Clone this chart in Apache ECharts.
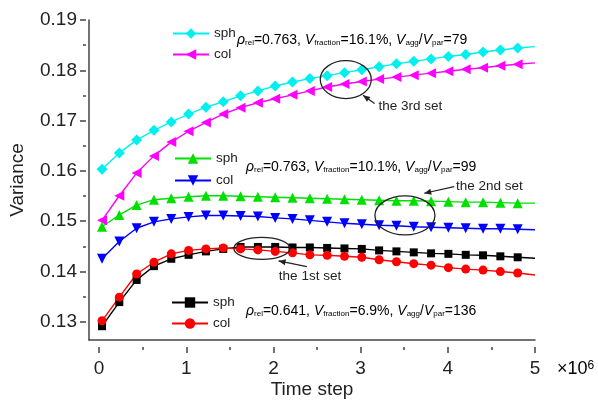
<!DOCTYPE html>
<html>
<head>
<meta charset="utf-8">
<script src="https://cdn.jsdelivr.net/npm/echarts@6/dist/echarts.min.js"></script>
<style>html,body{margin:0;padding:0;background:#fff;}#c{width:598px;height:404px;}</style>
</head>
<body>
<div id="c"></div>
<script>
// Time steps (x 10^6)
const timeSteps = [0,0.2,0.4,0.6,0.8,1.0,1.2,1.4,1.6,1.8,2.0,2.2,2.4,2.6,2.8,3.0,3.2,3.4,3.6,3.8,4.0,4.2,4.4,4.6,4.8,5.0];
// 3rd set
const sph3 = [0.1597,0.1630,0.1656,0.1676,0.1693,0.1709,0.1723,0.1734,0.1746,0.1756,0.1766,0.1774,0.1781,0.1787,0.1793,0.1799,0.1805,0.1811,0.1816,0.1821,0.1826,0.1830,0.1835,0.1839,0.1843,0.1846];
const col3 = [0.1493,0.1543,0.1589,0.1624,0.1652,0.1674,0.1692,0.1709,0.1722,0.1732,0.1740,0.1748,0.1756,0.1764,0.1770,0.1775,0.1780,0.1784,0.1788,0.1792,0.1796,0.1800,0.1803,0.1807,0.1810,0.1813];
// 2nd set
const sph2 = [0.1480,0.1504,0.1524,0.1535,0.1538,0.1541,0.1543,0.1543,0.1542,0.1541,0.1540,0.1539,0.1538,0.1537,0.1536,0.1535,0.1534,0.1533,0.1533,0.1532,0.1531,0.1530,0.1530,0.1529,0.1528,0.1528];
const col2 = [0.1415,0.1450,0.1477,0.1490,0.1496,0.1500,0.1503,0.1503,0.1502,0.1501,0.1498,0.1496,0.1493,0.1490,0.1487,0.1485,0.1483,0.1482,0.1480,0.1479,0.1478,0.1477,0.1476,0.1476,0.1475,0.1474];
// 1st set
const sph1 = [0.1278,0.1327,0.1372,0.1400,0.1415,0.1423,0.1430,0.1435,0.1439,0.1439,0.1439,0.1438,0.1438,0.1437,0.1436,0.1435,0.1432,0.1430,0.1428,0.1426,0.1425,0.1423,0.1422,0.1420,0.1418,0.1416];
const col1 = [0.1289,0.1337,0.1384,0.1408,0.1425,0.1432,0.1435,0.1437,0.1435,0.1433,0.1430,0.1427,0.1423,0.1422,0.1420,0.1418,0.1413,0.1409,0.1405,0.1402,0.1397,0.1394,0.1392,0.1389,0.1386,0.1382];

const xTickLabels = ['0','1','2','3','4','5'];
const yTickLabels = ['0.13','0.14','0.15','0.16','0.17','0.18','0.19'];

const FONT = 'Liberation Sans, Arial, sans-serif';
const chart = echarts.init(document.getElementById('c'), null, {renderer:'canvas'});

function mk(vals){
  return timeSteps.map((x,i)=> i===timeSteps.length-1 ? {value:[x,vals[i]], symbol:'none'} : {value:[x,vals[i]]});
}
function ser(name, vals, color, symbol, size, rot){
  return {
    name, type:'line', xAxisIndex:0, yAxisIndex:0, data: mk(vals),
    symbol, symbolSize:size, symbolRotate: rot||0, showSymbol:true,
    lineStyle:{color, width:1.4}, itemStyle:{color, borderWidth:0},
    emphasis:{disabled:true}, animation:false, clip:false, z:3
  };
}

const G0 = {left:86, top:20, width:449, height:327};
const pxPerX = 449/5.15;
const x0px = 86 + 0.15*pxPerX;
const pxPerY = 327/0.065;
const G1 = {left:x0px, top:20, width:5*pxPerX, height:0.06*pxPerY};

const legendBase = {
  orient:'vertical', itemWidth:36, itemHeight:13, itemGap:7, padding:0, selectedMode:false,
  textStyle:{fontSize:13.5, color:'#222', fontFamily:FONT},
  formatter: n => n.split('#')[0]
};
const rt = {
  i:{fontSize:14, fontStyle:'italic', fontFamily:FONT, color:'#333', lineHeight:16, verticalAlign:'bottom'},
  n:{fontSize:14, fontFamily:FONT, color:'#333', lineHeight:16, verticalAlign:'bottom'},
  s:{fontSize:8, fontFamily:FONT, color:'#333', lineHeight:8, verticalAlign:'bottom'}
};
function paramText(rho, vf, ratio){
  return '{i|ρ}{s|rel}{n|='+rho+', }{i|V}{s|fraction}{n|='+vf+', }{i|V}{s|agg}{n|/}{i|V}{s|par}{n|='+ratio+'}';
}

const option = {
  backgroundColor:'#fff',
  animation:false,
  grid:[
    Object.assign({containLabel:false}, G0),
    Object.assign({containLabel:false}, G1)
  ],
  xAxis:[
    {type:'value', gridIndex:0, min:-0.15, max:5, axisLine:{show:true, onZero:false, lineStyle:{color:'#444', width:1.5}},
     axisTick:{show:false}, axisLabel:{show:false}, splitLine:{show:false},
     name:'Time step', nameLocation:'middle', nameGap:40,
     nameTextStyle:{fontSize:19, color:'#222', fontFamily:FONT}},
    {type:'value', gridIndex:1, min:0, max:5, interval:1, offset:347-(20+G1.height),
     axisLine:{show:false, onZero:false}, axisTick:{show:true, length:6, lineStyle:{color:'#444', width:1.5}},
     minorTick:{show:true, splitNumber:2, length:3, lineStyle:{color:'#444', width:1.5}},
     axisLabel:{fontSize:19, color:'#222', fontFamily:FONT, margin:12, formatter:(v)=>xTickLabels[Math.round(v)]},
     splitLine:{show:false}, minorSplitLine:{show:false}}
  ],
  yAxis:[
    {type:'value', gridIndex:0, min:0.125, max:0.19, axisLine:{show:true, onZero:false, lineStyle:{color:'#444', width:1.5}},
     axisTick:{show:false}, axisLabel:{show:false}, splitLine:{show:false},
     name:'Variance', nameLocation:'middle', nameGap:62,
     nameTextStyle:{fontSize:19, color:'#222', fontFamily:FONT}},
    {type:'value', gridIndex:1, min:0.13, max:0.19, interval:0.01, offset:x0px-86,
     axisLine:{show:false, onZero:false}, axisTick:{show:true, length:6, lineStyle:{color:'#444', width:1.5}},
     minorTick:{show:true, splitNumber:2, length:3, lineStyle:{color:'#444', width:1.5}},
     axisLabel:{fontSize:19, color:'#222', fontFamily:FONT, margin:9, formatter:(v)=>yTickLabels[Math.round((v-0.13)*100)]},
     splitLine:{show:false}, minorSplitLine:{show:false}}
  ],
  legend:[
    Object.assign({}, legendBase, {left:172, top:26.5, data:['sph#3','col#3']}),
    Object.assign({}, legendBase, {left:174, top:151.5, itemGap:8, data:['sph#2','col#2']}),
    Object.assign({}, legendBase, {left:171, top:295.5, data:['sph#1','col#1']})
  ],
  series:[
    ser('sph#3', sph3, '#00f0f0', 'diamond', 11),
    ser('col#3', col3, '#ff00ff', 'triangle', 10, 90),
    ser('sph#2', sph2, '#00e000', 'triangle', 10),
    ser('col#2', col2, '#0000ff', 'triangle', 10, 180),
    ser('sph#1', sph1, '#000000', 'rect', 8),
    ser('col#1', col1, '#ff0000', 'circle', 9)
  ],
  graphic:[
    {type:'text', left:237, top:33, silent:true, style:{text:paramText('0.763','16.1%','79'), rich:rt}},
    {type:'text', left:246, top:160, silent:true, style:{text:paramText('0.763','10.1%','99'), rich:rt}},
    {type:'text', left:246, top:304, silent:true, style:{text:paramText('0.641','6.9%','136'), rich:rt}},
    {type:'text', left:557, top:360, silent:true, style:{text:'{m|×10}{p|6}', rich:{
      m:{fontSize:18, fontFamily:FONT, color:'#222', lineHeight:20, verticalAlign:'top'},
      p:{fontSize:12, fontFamily:FONT, color:'#222', lineHeight:12, verticalAlign:'top'}}}}
  ]
};
chart.setOption(option);

// Annotations: ellipse centres in data units, arrow / label offsets in pixels
const annotations = [
  {c:[2.815,0.1779], rx:25.5, ry:19, head:[17.2,15.7], tail:[28.8,24], label:'the 3rd set', lp:[32.8,26.3]},
  {c:[3.498,0.1503], rx:30, ry:19.5, head:[19.3,-22.2], tail:[49.3,-28.8], label:'the 2nd set', lp:[51,-29.5]},
  {c:[1.846,0.1436], rx:28, ry:11, head:[16.7,12.5], tail:[45,18.2], label:'the 1st set', lp:[17,27.5]}
];
const extra = [];
annotations.forEach(a=>{
  const p = chart.convertToPixel({xAxisIndex:0, yAxisIndex:0}, a.c);
  extra.push({type:'ellipse', silent:true, z:10, shape:{cx:p[0], cy:p[1], rx:a.rx, ry:a.ry}, style:{fill:'none', stroke:'#222', lineWidth:1.3}});
  const hx=p[0]+a.head[0], hy=p[1]+a.head[1], tx=p[0]+a.tail[0], ty=p[1]+a.tail[1];
  extra.push({type:'line', silent:true, z:10, shape:{x1:tx,y1:ty,x2:hx,y2:hy}, style:{stroke:'#222', lineWidth:1.2}});
  const dx=hx-tx, dy=hy-ty, L=Math.hypot(dx,dy), ux=dx/L, uy=dy/L, al=7, aw=3;
  extra.push({type:'polygon', silent:true, z:10, shape:{points:[[hx,hy],[hx-ux*al-uy*aw, hy-uy*al+ux*aw],[hx-ux*al+uy*aw, hy-uy*al-ux*aw]]}, style:{fill:'#222'}});
  extra.push({type:'text', silent:true, z:10, x:p[0]+a.lp[0], y:p[1]+a.lp[1], style:{text:a.label, fontSize:13.5, fontFamily:FONT, fill:'#222', align:'left', verticalAlign:'middle'}});
});
chart.setOption({graphic: option.graphic.concat(extra)});
</script>
</body>
</html>
